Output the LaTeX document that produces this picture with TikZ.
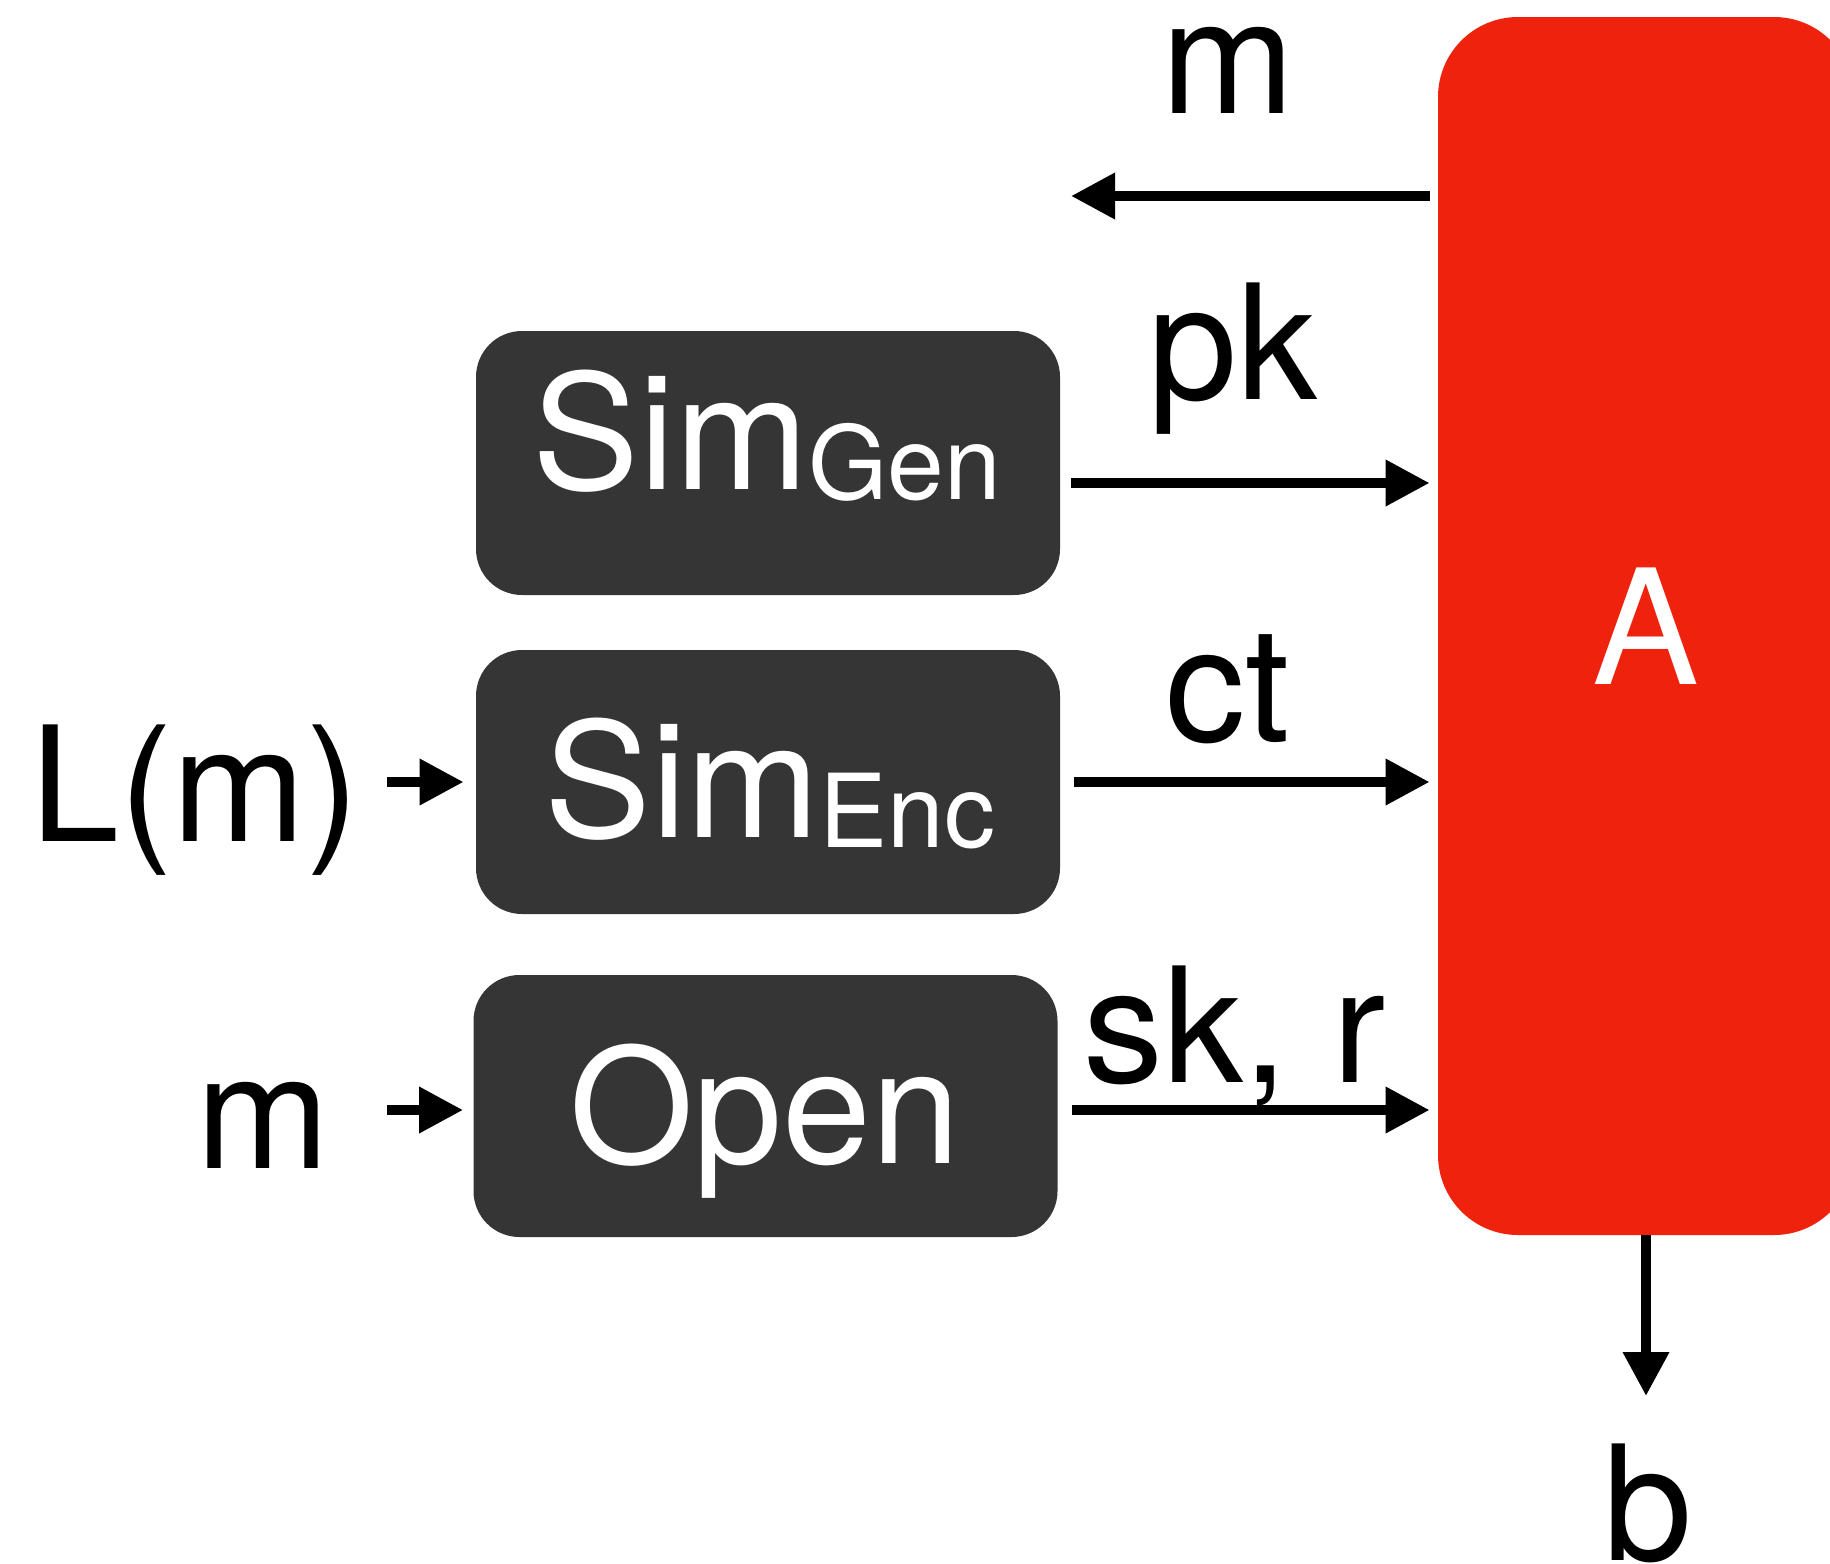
\documentclass[tikz,border=0pt]{standalone}
\usepackage{fontspec}
\setmainfont{TeX Gyre Heros}
\usetikzlibrary{arrows.meta}
\definecolor{advred}{RGB}{238,34,13}
\definecolor{boxgray}{RGB}{53,53,53}
\newcommand{\bigtxt}{\fontsize{80pt}{96pt}\selectfont}
\newcommand{\subtxt}[1]{\raisebox{-5pt}{\fontsize{51pt}{60pt}\selectfont #1}}
\begin{document}
\begin{tikzpicture}[x=0.5pt,y=-0.5pt,
  blk/.style={fill=boxgray, rounded corners=23pt, minimum width=292pt, minimum height=132pt, inner sep=0pt},
  boxtxt/.style={text=white, font=\bigtxt, inner sep=0pt, anchor=base},
  lbl/.style={font=\bigtxt, inner sep=0pt, anchor=base},
  arr/.style={line width=5pt, -{Triangle[length=22pt,width=22pt]}},
]
\clip (0,0) rectangle (1830,1563);
\fill[white] (0,0) rectangle (1830,1563);

% adversary
\node[fill=advred, rounded corners=40pt, minimum width=208pt, minimum height=609pt,
      inner sep=0pt, text=white, font=\bigtxt] (adv) at (1646,626) {A};

% simulator and opening boxes
\node[blk] (gen) at (768,463) {};
\node[boxtxt] (gentxt) at (767,489) {Sim\subtxt{Gen}};
\node[blk] (enc) at (768,782) {};
\node[boxtxt] (enctxt) at (770,837) {Sim\subtxt{Enc}};
\node[blk, minimum height=131pt] (open) at (765.5,1106) {};
\node[boxtxt] (opentxt) at (765,1163) {Open};

% labels
\node[lbl] (mlbl) at (1228,113) {m};
\node[lbl] (pklbl) at (1233,399) {pk};
\node[lbl] (ctlbl) at (1228,741) {ct};
\node[lbl] (sklbl) at (1235,1082) {sk, r};
\node[lbl] (lm) at (195,841) {L(m)};
\node[lbl] (min) at (263,1168) {m};
\node[lbl] (blbl) at (1648,1560) {b};

% free arrow ends and rows
\coordinate (mout) at (1071,196);
\coordinate (pkrow) at (0,483);
\coordinate (skrow) at (0,1110);
\coordinate (lmin) at (387,782);
\coordinate (mstart) at (387,1110);
\coordinate (bout) at (1646,1396);

% connectors
\draw[arr, shorten <=4pt] (adv.west |- mout) -- (mout);
\draw[arr, shorten <=5.5pt, shorten >=4pt] (gen.east |- pkrow) -- (adv.west |- pkrow);
\draw[arr, shorten <=7pt, shorten >=4pt] (enc.east) -- (enc.east -| adv.west);
\draw[arr, shorten <=7pt, shorten >=4pt] (open.east |- skrow) -- (adv.west |- skrow);
\draw[arr, shorten >=6pt] (lmin) -- (enc.west);
\draw[arr, shorten >=5pt] (mstart) -- (open.west |- mstart);
\draw[arr] (adv.south) -- (bout);
\end{tikzpicture}
\end{document}
